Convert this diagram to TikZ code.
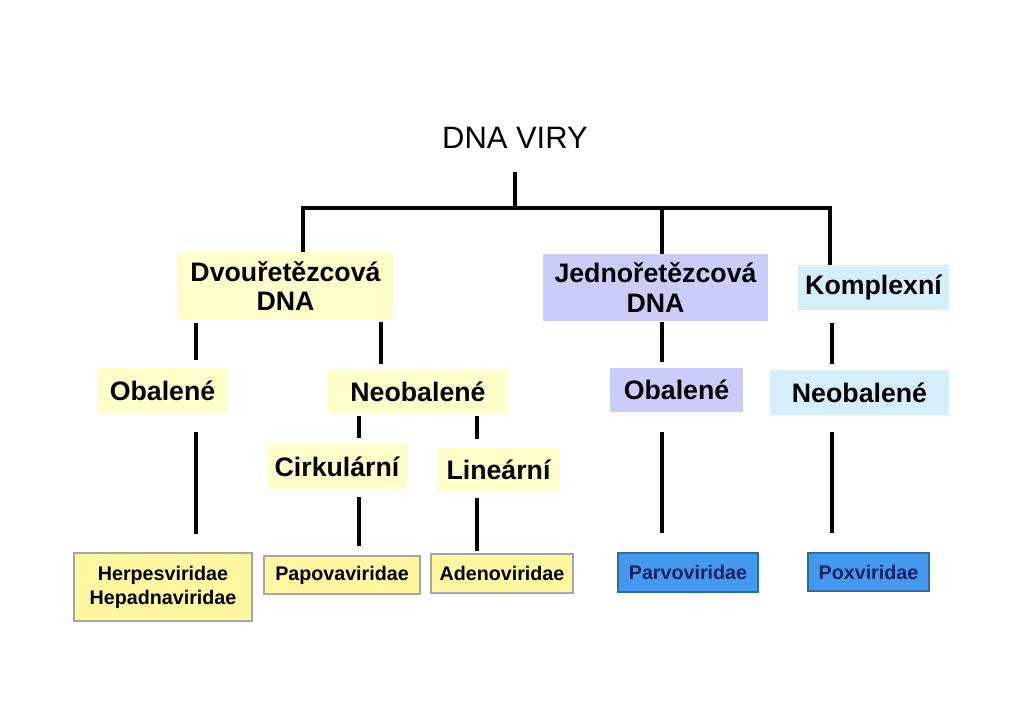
\documentclass[tikz,border=0pt]{standalone}
\usepackage{fontspec}
\setmainfont{Liberation Sans}
\usetikzlibrary{positioning, calc}
\definecolor{PaleYellow}{HTML}{FFFFCC}
\definecolor{LeafYellow}{HTML}{FFF7A0}
\definecolor{Lavender}{HTML}{CCCCF8}
\definecolor{IceBlue}{HTML}{D4EEFC}
\definecolor{SkyBlue}{HTML}{4499EE}
\definecolor{InkNavy}{HTML}{1A2060}
\tikzset{
  link/.style={line width=3.5pt},
  gap/.style 2 args={shorten <=#1pt, shorten >=#2pt},
  group/.style={inner sep=0pt, align=center,
                font=\bfseries\fontsize{19}{21}\selectfont},
  family/.style={draw=gray!70, line width=0.8pt, inner sep=0pt, align=center,
                 font=\bfseries\fontsize{14}{17}\selectfont},
}

\begin{document}
\begin{tikzpicture}[x=0.025cm, y=-0.025cm]
\useasboundingbox[fill=white] (0,0) rectangle (1024,724);

% root and the bar below it
\node (title) at (515,138) {\fontsize{22}{26}\selectfont DNA VIRY};
\coordinate (hub)  at (515,208);
\coordinate (barL) at (303,208);
\coordinate (barR) at (830,208);

% columns of the connectors
\coordinate (colA) at (196,0);
\coordinate (colB) at (381,0);
\coordinate (colC) at (359,0);
\coordinate (colD) at (477,0);
\coordinate (colE) at (662,0);
\coordinate (colF) at (832,0);

% first level
\node[group, fill=PaleYellow, minimum width=5.425cm, minimum height=1.7cm]
  (dvou) at (285.5,286) {Dvouřetězcová\\DNA};
\node[group, fill=Lavender, minimum width=5.625cm, minimum height=1.675cm]
  (jedno) at (655.5,287.5) {Jednořetězcová\\DNA};
\node[group, fill=IceBlue, minimum width=3.775cm, minimum height=1.125cm]
  (kompl) at (873.5,287.5) {Komplexní};

% second level
\node[group, fill=PaleYellow, minimum width=3.275cm, minimum height=1.125cm]
  (obalA) at (162.5,390.5) {Obalené};
\node[group, fill=PaleYellow, minimum width=4.5cm, minimum height=1.1cm]
  (neobA) at (418,392) {Neobalené};
\node[group, fill=Lavender, minimum width=3.325cm, minimum height=1.1cm]
  (obalB) at (676.5,390) {Obalené};
\node[group, fill=IceBlue, minimum width=4.475cm, minimum height=1.125cm]
  (neobB) at (859.5,392.5) {Neobalené};

% third level
\node[group, fill=PaleYellow, minimum width=3.5cm, minimum height=1.175cm]
  (cirk) at (337,466.5) {Cirkulární};
\node[group, fill=PaleYellow, minimum width=3.075cm, minimum height=1.1cm]
  (linea) at (498.5,470) {Lineární};

% virus families
\node[family, fill=LeafYellow, minimum width=4.45cm, minimum height=1.7cm]
  (herpes) at (163,587) {Herpesviridae\\Hepadnaviridae};
\node[family, fill=LeafYellow, minimum width=3.9cm, minimum height=0.95cm]
  (papova) at (342,575) {Papovaviridae};
\node[family, fill=LeafYellow, minimum width=3.55cm, minimum height=0.975cm]
  (adeno) at (502,573.5) {Adenoviridae};
\node[family, fill=SkyBlue, draw=SkyBlue!70!black, text=InkNavy,
      minimum width=3.5cm, minimum height=0.975cm]
  (parvo) at (688,572.5) {Parvoviridae};
\node[family, fill=SkyBlue, draw=SkyBlue!70!black, text=InkNavy,
      minimum width=3.025cm, minimum height=0.95cm]
  (pox) at (868.5,572) {Poxviridae};

% connectors
\draw[link, shorten <=13pt] (title.south) -- (hub);
\draw[link] (dvou.north -| barL) -- (barL) -- (barR) -- (kompl.north -| barR);
\draw[link] (jedno.north -| colE) -- (colE |- barL);

\draw[link, gap={2}{5.7}]  (dvou.south -| colA)  -- (obalA.north -| colA);
\draw[link, gap={13.5}{12.8}] (obalA.south -| colA) -- (herpes.north -| colA);
\draw[link, gap={1.4}{4.3}] (dvou.south -| colB)  -- (neobA.north -| colB);
\draw[link, gap={1.4}{3.5}] (neobA.south -| colC) -- (cirk.north -| colC);
\draw[link, gap={1.4}{6.4}] (neobA.south -| colD) -- (linea.north -| colD);
\draw[link, gap={5}{6.4}]   (cirk.south -| colC)  -- (papova.north -| colC);
\draw[link, gap={4.3}{2}]   (linea.south -| colD) -- (adeno.north -| colD);
\draw[link, gap={0.7}{4.3}] (jedno.south -| colE) -- (obalB.north -| colE);
\draw[link, gap={14}{13.5}] (obalB.south -| colE) -- (parvo.north -| colE);
\draw[link, gap={9}{4.3}]   (kompl.south -| colF) -- (neobB.north -| colF);
\draw[link, gap={12}{13.5}] (neobB.south -| colF) -- (pox.north -| colF);
\end{tikzpicture}
\end{document}
